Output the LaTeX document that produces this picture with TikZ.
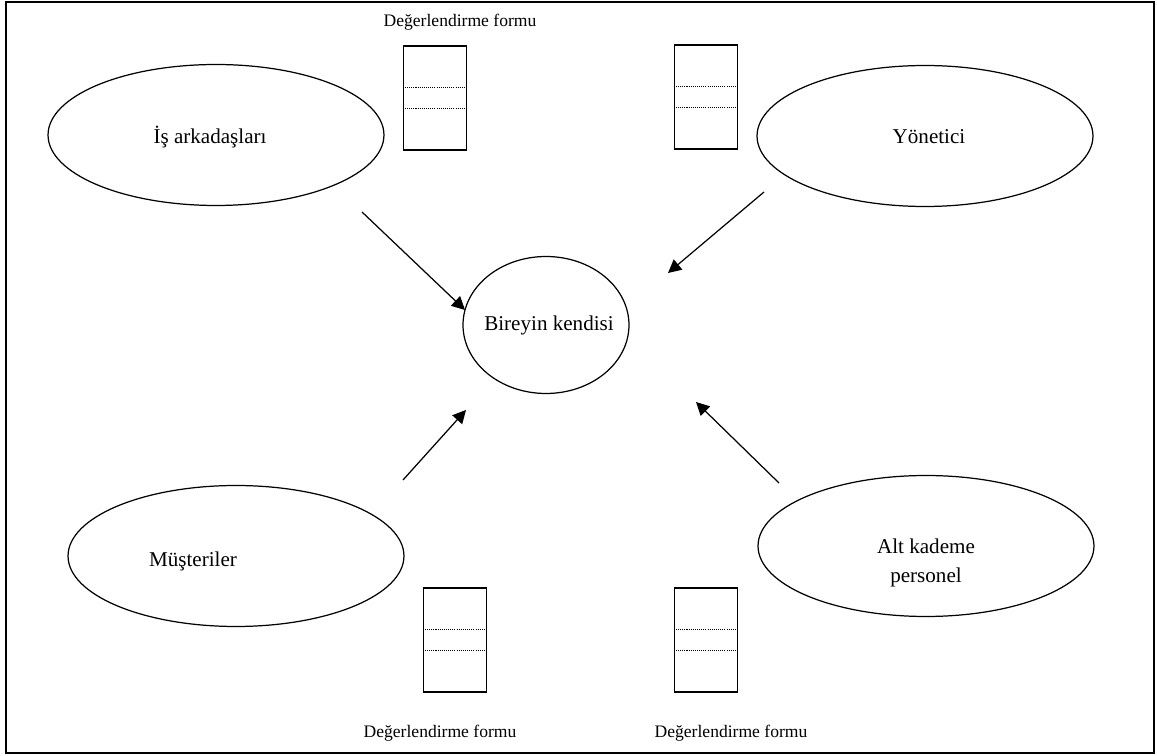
\documentclass[tikz,border=0pt]{standalone}
\usepackage{fontspec}
\setmainfont{Liberation Serif}
\usetikzlibrary{shapes,arrows.meta,positioning,calc}

\tikzset{
  oval/.style={draw, ellipse, line width=0.7pt, inner sep=0pt,
    minimum width=6.72cm, minimum height=2.82cm},
  lbl/.style={font=\fontsize{12}{16.5}\selectfont, align=center},
  formbox/.style={draw, line width=0.8pt, inner sep=0pt,
    minimum width=1.26cm, minimum height=2.08cm},
  formlbl/.style={font=\fontsize{10}{12}\selectfont},
  arr/.style={-{Triangle[length=7.5pt,width=7.5pt]}, line width=0.7pt},
  sepline/.style={line width=0.5pt, dash pattern=on 0.6pt off 0.6pt}
}

\begin{document}
\begin{tikzpicture}[x=0.02cm, y=-0.02cm]
        \useasboundingbox (0,0) rectangle (1157,756);
        % Frame
        \draw[line width=0.9pt] (6,2) rectangle (1154,753);

        % Centre
        \node[oval, minimum width=3.32cm, minimum height=2.74cm] (birey) at (546,325) {};
        \node[lbl] (bireytxt) at (549,325) {Bireyin kendisi};

        % Evaluators
        \node[oval] (isark) at (216,135) {};
        \node[lbl] (isarktxt) at (210,137) {İş arkadaşları};
        \node[oval] (yonet) at (925,136) {};
        \node[lbl] (yonettxt) at (929,137) {Yönetici};
        \node[oval] (must) at (236,556) {};
        \node[lbl] (musttxt) at (193,561) {Müşteriler};
        \node[oval] (alt) at (926,546) {};
        \node[lbl] (alttxt) at (926,563) {Alt kademe\\personel};

        % Forms
        \node[formbox] (f1) at (435,98) {};
        \node[formbox] (f2) at (706,97) {};
        \node[formbox] (f3) at (455,640) {};
        \node[formbox] (f4) at (706,640) {};
        \foreach \f in {f1,f2,f3,f4} {
            \draw[sepline] ($(\f.north west)!0.4!(\f.south west)$) -- ($(\f.north east)!0.4!(\f.south east)$);
            \draw[sepline] ($(\f.north west)!0.6!(\f.south west)$) -- ($(\f.north east)!0.6!(\f.south east)$);
        }
        \node[formlbl] (f1txt) at (460,22) {Değerlendirme formu};
        \node[formlbl] (f3txt) at (440,733) {Değerlendirme formu};
        \node[formlbl] (f4txt) at (731,733) {Değerlendirme formu};

        % Arrows
        \coordinate (a1) at (362,212);
        \coordinate (a1t) at (465,310);
        \coordinate (a2) at (764,192);
        \coordinate (a2t) at (668,273);
        \coordinate (a3) at (403,480);
        \coordinate (a3t) at (466,410);
        \coordinate (a4) at (779,483);
        \coordinate (a4t) at (696,402);
        \draw[arr] (a1) -- (a1t);
        \draw[arr] (a2) -- (a2t);
        \draw[arr] (a3) -- (a3t);
        \draw[arr] (a4) -- (a4t);
\end{tikzpicture}
\end{document}
